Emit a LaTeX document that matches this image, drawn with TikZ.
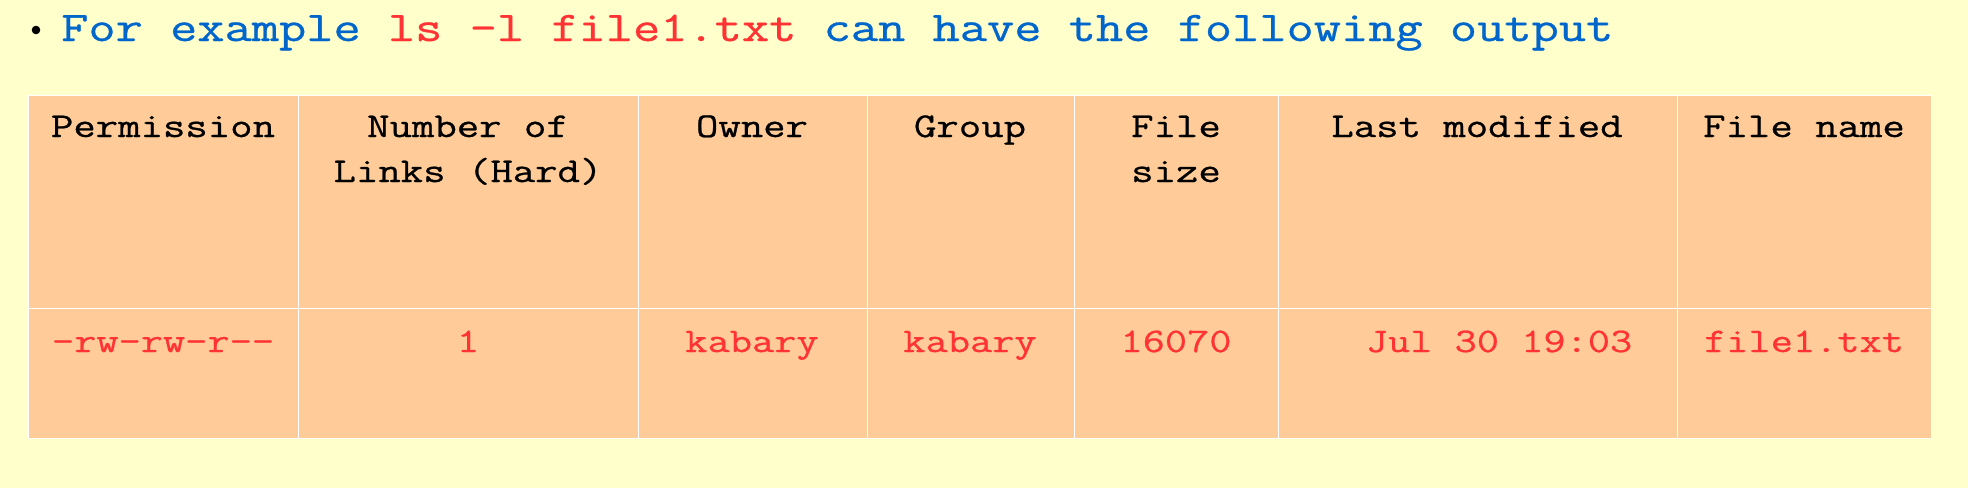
\documentclass[tikz,border=0pt]{standalone}
\usepackage{fontspec}
\setmonofont[FakeStretch=1.25,FakeBold=0.7]{Latin Modern Mono}
\definecolor{bg}{HTML}{FFFFCC}
\definecolor{cellc}{HTML}{FFCC99}
\definecolor{tblue}{HTML}{0066CC}
\definecolor{tred}{HTML}{FF3333}
\tikzset{
  cell/.style={draw=white, line width=1.2pt, fill=cellc, inner sep=0pt, anchor=north west},
  head/.style={anchor=base, inner sep=0pt, align=center, font=\ttfamily\fontsize{34.8}{45}\selectfont, text=black},
  datum/.style={anchor=base, inner sep=0pt, font=\ttfamily\fontsize{34.5}{45}\selectfont, text=tred},
}
\begin{document}
\begin{tikzpicture}[x=1pt,y=-1pt]
\fill[bg] (0,0) rectangle (1968,488);
\useasboundingbox (0,0) rectangle (1968,488);
% bullet and title
\fill[black] (36,30) circle (4.3);
\node[anchor=base west, inner sep=0pt, font=\ttfamily\fontsize{42.3}{50}\selectfont, text=tblue] (title) at (61,41)
  {For example \textcolor{tred}{ls -l file1.txt} can have the following output};
% header cells
\node[cell, minimum width=270pt, minimum height=213pt] (h1) at (28,95) {};
\node[cell, minimum width=340pt, minimum height=213pt] (h2) at (298,95) {};
\node[cell, minimum width=229pt, minimum height=213pt] (h3) at (638,95) {};
\node[cell, minimum width=207pt, minimum height=213pt] (h4) at (867,95) {};
\node[cell, minimum width=204pt, minimum height=213pt] (h5) at (1074,95) {};
\node[cell, minimum width=399pt, minimum height=213pt] (h6) at (1278,95) {};
\node[cell, minimum width=254pt, minimum height=213pt] (h7) at (1677,95) {};
% data cells
\node[cell, minimum width=270pt, minimum height=130pt] (d1) at (28,308) {};
\node[cell, minimum width=340pt, minimum height=130pt] (d2) at (298,308) {};
\node[cell, minimum width=229pt, minimum height=130pt] (d3) at (638,308) {};
\node[cell, minimum width=207pt, minimum height=130pt] (d4) at (867,308) {};
\node[cell, minimum width=204pt, minimum height=130pt] (d5) at (1074,308) {};
\node[cell, minimum width=399pt, minimum height=130pt] (d6) at (1278,308) {};
\node[cell, minimum width=254pt, minimum height=130pt] (d7) at (1677,308) {};
% header texts (two-line nodes anchored at the baseline of their last line)
\node[head] (t1) at (163,137) {Permission};
\node[head] (t2) at (468,182) {Number of\\Links (Hard)};
\node[head] (t3) at (752,137) {Owner};
\node[head] (t4) at (970,137) {Group};
\node[head] (t5) at (1176,182) {File\\size};
\node[head] (t6) at (1477,137) {Last modified};
\node[head] (t7) at (1804,137) {File name};
% data texts
\node[datum] (v1) at (163,352) {-rw-rw-r--};
\node[datum] (v2) at (468,352) {1};
\node[datum] (v3) at (752,352) {kabary};
\node[datum] (v4) at (970,352) {kabary};
\node[datum] (v5) at (1176,352) {16070};
\node[datum] (v6) at (1499,352) {Jul 30 19:03};
\node[datum] (v7) at (1804,352) {file1.txt};
\end{tikzpicture}
\end{document}
